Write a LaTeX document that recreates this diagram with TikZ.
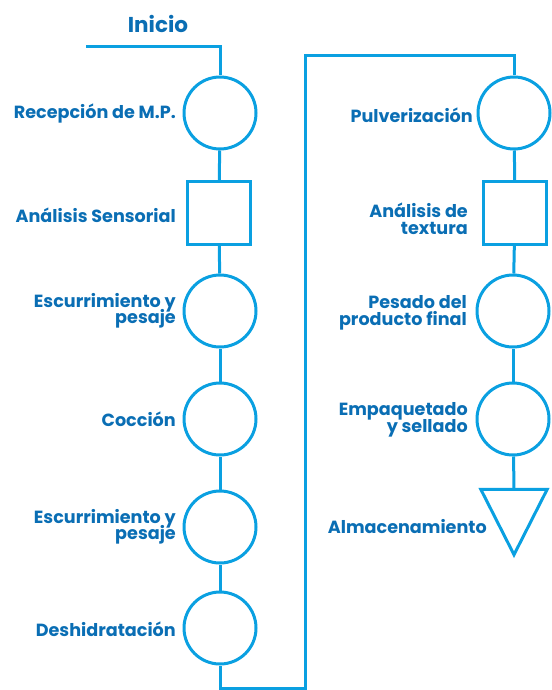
\documentclass[tikz,border=0pt]{standalone}
\usepackage{fontspec}
\setmainfont{Poppins}

\definecolor{flujo}{HTML}{0AA0E1}
\definecolor{texto}{HTML}{0A6EB4}

\tikzset{
    operacion/.style={draw=flujo, line width=3pt, circle, minimum size=72pt, inner sep=0pt},
    inspeccion/.style={draw=flujo, line width=3pt, minimum size=63pt, inner sep=0pt},
    almacen/.style={minimum width=66pt, minimum height=65pt, inner sep=0pt},
    etiqueta/.style={text=texto, font={\bfseries\fontsize{17.6}{16.5}\selectfont\lineskiplimit=-20pt},
        align=right, anchor=east, inner sep=0pt},
    linea/.style={draw=flujo, line width=3pt}
}

\begin{document}
\begin{tikzpicture}[x=1pt, y=-1pt]
    \useasboundingbox (0, 0) rectangle (551, 690);

    % columna izquierda
    \node[text=texto, font=\bfseries\fontsize{21.5}{24}\selectfont] (inicio) at (158, 24) {Inicio};
    \coordinate (entrada) at (86, 47);
    \coordinate (codo) at (220, 47);
    \node[operacion] (recepcion) at (220, 113) {};
    \node[inspeccion] (sensorial) at (219, 213) {};
    \node[operacion] (escurrido1) at (220, 311) {};
    \node[operacion] (coccion) at (220, 419) {};
    \node[operacion] (escurrido2) at (220, 527) {};
    \node[operacion] (deshidratacion) at (220, 628) {};

    \node[etiqueta] (trecepcion) at (176, 114) {Recepción de M.P.};
    \node[etiqueta] (tsensorial) at (176, 215) {Análisis Sensorial};
    \node[etiqueta] (tescurrido1) at (176, 311) {Escurrimiento y\\pesaje};
    \node[etiqueta] (tcoccion) at (176, 419) {Cocción};
    \node[etiqueta] (tescurrido2) at (176, 527) {Escurrimiento y\\pesaje};
    \node[etiqueta] (tdeshidratacion) at (176, 629) {Deshidratación};

    % columna derecha
    \coordinate (abajo1) at (220, 688);
    \coordinate (abajo2) at (305, 688);
    \coordinate (arriba1) at (305, 56);
    \coordinate (arriba2) at (514, 56);
    \node[operacion] (pulverizacion) at (514, 113) {};
    \node[inspeccion] (textura) at (515, 213) {};
    \node[operacion] (pesado) at (513, 311) {};
    \node[operacion] (empaquetado) at (513, 419) {};
    \node[almacen] (almacenamiento) at (514, 522) {};
    \draw[linea, line join=miter] (almacenamiento.north west) -- (almacenamiento.north east)
        -- (almacenamiento.south) -- cycle;

    \node[etiqueta] (tpulverizacion) at (473, 115) {Pulverización};
    \node[etiqueta] (ttextura) at (468, 219) {Análisis de\\textura};
    \node[etiqueta] (tpesado) at (467, 313) {Pesado del\\producto final};
    \node[etiqueta] (tempaquetado) at (468, 420) {Empaquetado\\y sellado};
    \node[etiqueta] (talmacenamiento) at (487, 527) {Almacenamiento};

    % flujo
    \draw[linea] (entrada) -- (codo) -- (recepcion);
    \draw[linea] (recepcion) -- (sensorial);
    \draw[linea] (sensorial) -- (escurrido1);
    \draw[linea] (escurrido1) -- (coccion);
    \draw[linea] (coccion) -- (escurrido2);
    \draw[linea] (escurrido2) -- (deshidratacion);
    \draw[linea] (deshidratacion) -- (abajo1) -- (abajo2) -- (arriba1) -- (arriba2) -- (pulverizacion);
    \draw[linea] (pulverizacion) -- (textura);
    \draw[linea] (textura) -- (pesado);
    \draw[linea] (pesado) -- (empaquetado);
    \draw[linea] (empaquetado) -- (almacenamiento.north);
\end{tikzpicture}
\end{document}
